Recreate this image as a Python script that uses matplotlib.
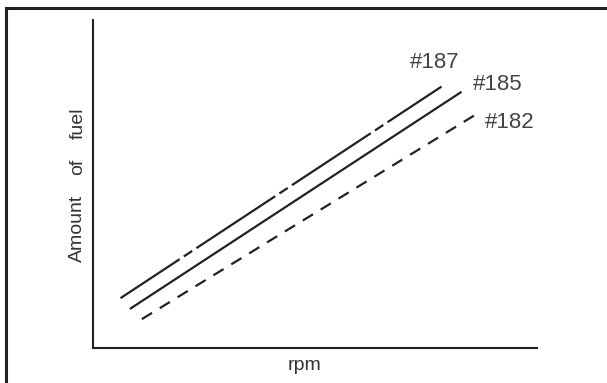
import matplotlib.pyplot as plt
from matplotlib.lines import Line2D

plt.rcParams['font.family'] = ['Liberation Sans', 'DejaVu Sans']
plt.rcParams['lines.scale_dashes'] = False

# line data: (rpm start, rpm end), (fuel start, fuel end)
series = ["#187", "#185", "#182"]
rpm = [[6.2, 78.5], [8.3, 83.0], [11.0, 86.0]]
fuel = [[15.2, 79.7], [11.9, 78.1], [8.8, 71.0]]
label_pos = [[71.4, 85.3], [85.6, 78.7], [88.3, 67.0]]

# y-axis title, written word by word (widely spaced in the original)
ylabel_words = ["Amount", "of", "fuel"]
ylabel_at = [0.366, 0.552, 0.686]

styles = [
    (17, (68, 3.6, 7.2, 3.6)),
    "-",
    (0, (8.6, 6.5)),
]

fig = plt.figure(figsize=(6.07, 3.83), dpi=100)
ax = fig.add_axes([93 / 607, 35 / 383, 444 / 607, 328 / 383])

ink = "#222222"
for name, x, y, st, lp in zip(series, rpm, fuel, styles, label_pos):
    ax.plot(x, y, color=ink, lw=1.6, linestyle=st,
            solid_capstyle="butt", dash_capstyle="butt")
    ax.text(lp[0], lp[1], name, fontsize=16, color="#444444", ha="left", va="baseline")

ax.set_xlim(0, 100)
ax.set_ylim(0, 100)
ax.set_xticks([])
ax.set_yticks([])
for s in ["top", "right"]:
    ax.spines[s].set_visible(False)
for s in ["left", "bottom"]:
    ax.spines[s].set_color(ink)
    ax.spines[s].set_linewidth(1.5)

for w, yy in zip(ylabel_words, ylabel_at):
    ax.text(-0.034, yy, w, transform=ax.transAxes, rotation=90,
            ha="center", va="center", fontsize=14, color="#333333")
ax.text(0.477, -0.052, "rpm", transform=ax.transAxes,
        ha="center", va="center", fontsize=14, color="#333333")

# outer frame (left and top edges only)
fig.add_artist(Line2D([6 / 607, 6 / 607], [0, 1 - 8 / 383], color=ink, lw=2.2,
                      transform=fig.transFigure, solid_capstyle="projecting"))
fig.add_artist(Line2D([6 / 607, 1], [1 - 8 / 383, 1 - 8 / 383], color=ink, lw=2.2,
                      transform=fig.transFigure, solid_capstyle="projecting"))

fig.savefig("out.png", dpi=100, facecolor="white")
